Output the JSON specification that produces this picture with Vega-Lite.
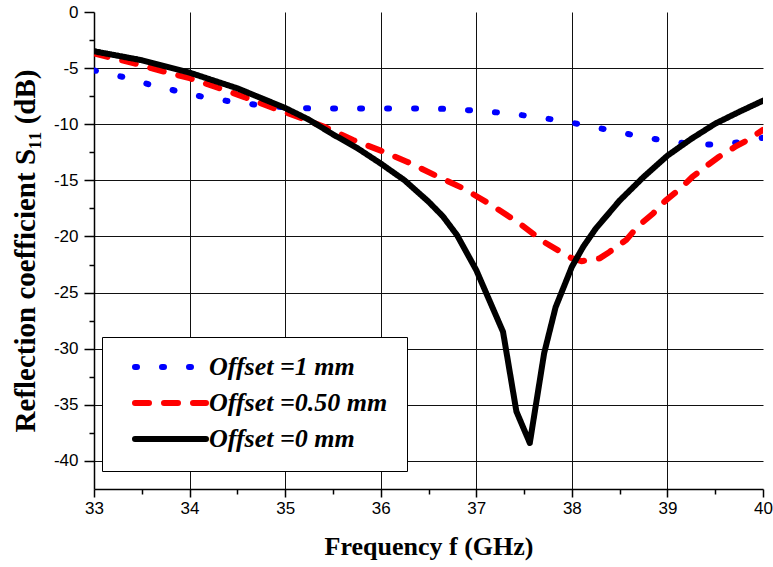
{
  "$schema": "https://vega.github.io/schema/vega-lite/v6.json",
  "width": 669,
  "height": 477,
  "autosize": {"type": "none"},
  "padding": {"left": 94, "top": 12, "right": 10, "bottom": 78},
  "background": "white",
  "config": {
    "view": {"stroke": null},
    "axis": {
      "domainColor": "black",
      "domainWidth": 1.5,
      "tickColor": "black",
      "tickWidth": 1.5,
      "gridColor": "#111",
      "gridWidth": 1,
      "labelFont": "Liberation Sans",
      "labelFontSize": 17,
      "labelColor": "black",
      "titleFont": "Liberation Serif",
      "titleFontWeight": "bold",
      "titleColor": "black"
    }
  },
  "data": {
    "values": [
      {"f": 33.0, "s": -5.2, "series": "Offset =1 mm"},
      {"f": 33.31, "s": -5.8, "series": "Offset =1 mm"},
      {"f": 33.58, "s": -6.45, "series": "Offset =1 mm"},
      {"f": 33.87, "s": -7.05, "series": "Offset =1 mm"},
      {"f": 34.16, "s": -7.6, "series": "Offset =1 mm"},
      {"f": 34.45, "s": -8.0, "series": "Offset =1 mm"},
      {"f": 34.73, "s": -8.3, "series": "Offset =1 mm"},
      {"f": 35.0, "s": -8.5, "series": "Offset =1 mm"},
      {"f": 35.3, "s": -8.6, "series": "Offset =1 mm"},
      {"f": 35.6, "s": -8.6, "series": "Offset =1 mm"},
      {"f": 36.0, "s": -8.6, "series": "Offset =1 mm"},
      {"f": 36.5, "s": -8.6, "series": "Offset =1 mm"},
      {"f": 36.75, "s": -8.65, "series": "Offset =1 mm"},
      {"f": 37.0, "s": -8.8, "series": "Offset =1 mm"},
      {"f": 37.3, "s": -9.0, "series": "Offset =1 mm"},
      {"f": 37.58, "s": -9.3, "series": "Offset =1 mm"},
      {"f": 37.86, "s": -9.65, "series": "Offset =1 mm"},
      {"f": 38.15, "s": -10.1, "series": "Offset =1 mm"},
      {"f": 38.43, "s": -10.6, "series": "Offset =1 mm"},
      {"f": 38.72, "s": -11.1, "series": "Offset =1 mm"},
      {"f": 39.0, "s": -11.5, "series": "Offset =1 mm"},
      {"f": 39.29, "s": -11.8, "series": "Offset =1 mm"},
      {"f": 39.57, "s": -11.8, "series": "Offset =1 mm"},
      {"f": 39.85, "s": -11.5, "series": "Offset =1 mm"},
      {"f": 40.0, "s": -11.2, "series": "Offset =1 mm"},

      {"f": 33.0, "s": -3.7, "series": "Offset =0.50 mm"},
      {"f": 33.43, "s": -4.6, "series": "Offset =0.50 mm"},
      {"f": 33.71, "s": -5.26, "series": "Offset =0.50 mm"},
      {"f": 34.0, "s": -5.9, "series": "Offset =0.50 mm"},
      {"f": 34.28, "s": -6.7, "series": "Offset =0.50 mm"},
      {"f": 34.58, "s": -7.6, "series": "Offset =0.50 mm"},
      {"f": 34.86, "s": -8.5, "series": "Offset =0.50 mm"},
      {"f": 35.15, "s": -9.4, "series": "Offset =0.50 mm"},
      {"f": 35.43, "s": -10.3, "series": "Offset =0.50 mm"},
      {"f": 35.71, "s": -11.4, "series": "Offset =0.50 mm"},
      {"f": 36.0, "s": -12.35, "series": "Offset =0.50 mm"},
      {"f": 36.28, "s": -13.36, "series": "Offset =0.50 mm"},
      {"f": 36.57, "s": -14.55, "series": "Offset =0.50 mm"},
      {"f": 36.86, "s": -15.7, "series": "Offset =0.50 mm"},
      {"f": 37.14, "s": -17.1, "series": "Offset =0.50 mm"},
      {"f": 37.43, "s": -18.7, "series": "Offset =0.50 mm"},
      {"f": 37.71, "s": -20.5, "series": "Offset =0.50 mm"},
      {"f": 37.99, "s": -21.9, "series": "Offset =0.50 mm"},
      {"f": 38.1, "s": -22.2, "series": "Offset =0.50 mm"},
      {"f": 38.29, "s": -21.95, "series": "Offset =0.50 mm"},
      {"f": 38.39, "s": -21.4, "series": "Offset =0.50 mm"},
      {"f": 38.57, "s": -20.3, "series": "Offset =0.50 mm"},
      {"f": 38.69, "s": -19.1, "series": "Offset =0.50 mm"},
      {"f": 38.85, "s": -17.95, "series": "Offset =0.50 mm"},
      {"f": 38.98, "s": -16.8, "series": "Offset =0.50 mm"},
      {"f": 39.14, "s": -15.7, "series": "Offset =0.50 mm"},
      {"f": 39.26, "s": -14.7, "series": "Offset =0.50 mm"},
      {"f": 39.42, "s": -13.65, "series": "Offset =0.50 mm"},
      {"f": 39.54, "s": -12.9, "series": "Offset =0.50 mm"},
      {"f": 39.71, "s": -12.0, "series": "Offset =0.50 mm"},
      {"f": 39.84, "s": -11.4, "series": "Offset =0.50 mm"},
      {"f": 40.0, "s": -10.5, "series": "Offset =0.50 mm"},

      {"f": 33.0, "s": -3.5, "series": "Offset =0 mm"},
      {"f": 33.5, "s": -4.3, "series": "Offset =0 mm"},
      {"f": 34.0, "s": -5.4, "series": "Offset =0 mm"},
      {"f": 34.5, "s": -6.8, "series": "Offset =0 mm"},
      {"f": 35.0, "s": -8.55, "series": "Offset =0 mm"},
      {"f": 35.25, "s": -9.6, "series": "Offset =0 mm"},
      {"f": 35.5, "s": -10.9, "series": "Offset =0 mm"},
      {"f": 35.75, "s": -12.1, "series": "Offset =0 mm"},
      {"f": 36.0, "s": -13.5, "series": "Offset =0 mm"},
      {"f": 36.25, "s": -15.0, "series": "Offset =0 mm"},
      {"f": 36.5, "s": -16.9, "series": "Offset =0 mm"},
      {"f": 36.65, "s": -18.2, "series": "Offset =0 mm"},
      {"f": 36.8, "s": -19.9, "series": "Offset =0 mm"},
      {"f": 37.0, "s": -23.0, "series": "Offset =0 mm"},
      {"f": 37.28, "s": -28.5, "series": "Offset =0 mm"},
      {"f": 37.42, "s": -35.6, "series": "Offset =0 mm"},
      {"f": 37.56, "s": -38.4, "series": "Offset =0 mm"},
      {"f": 37.71, "s": -30.4, "series": "Offset =0 mm"},
      {"f": 37.83, "s": -26.3, "series": "Offset =0 mm"},
      {"f": 37.92, "s": -24.4, "series": "Offset =0 mm"},
      {"f": 38.0, "s": -22.7, "series": "Offset =0 mm"},
      {"f": 38.12, "s": -20.9, "series": "Offset =0 mm"},
      {"f": 38.25, "s": -19.3, "series": "Offset =0 mm"},
      {"f": 38.5, "s": -16.8, "series": "Offset =0 mm"},
      {"f": 38.75, "s": -14.7, "series": "Offset =0 mm"},
      {"f": 39.0, "s": -12.8, "series": "Offset =0 mm"},
      {"f": 39.25, "s": -11.3, "series": "Offset =0 mm"},
      {"f": 39.5, "s": -9.95, "series": "Offset =0 mm"},
      {"f": 39.75, "s": -8.9, "series": "Offset =0 mm"},
      {"f": 40.0, "s": -7.9, "series": "Offset =0 mm"}
    ]
  },
  "mark": {"type": "line", "strokeWidth": 6, "strokeCap": "round", "strokeJoin": "round", "clip": true},
  "encoding": {
    "x": {
      "field": "f",
      "type": "quantitative",
      "scale": {"domain": [33, 40], "nice": false, "zero": false},
      "axis": {
        "title": "Frequency f (GHz)",
        "titleFontSize": 26,
        "values": [33, 33.5, 34, 34.5, 35, 35.5, 36, 36.5, 37, 37.5, 38, 38.5, 39, 39.5, 40],
        "labelExpr": "datum.value % 1 == 0 ? '' + datum.value : ''",
        "labelFlush": false,
        "labelOverlap": false,
        "labelPadding": 3,
        "tickSize": {"condition": {"test": "datum.value % 1 != 0", "value": 5}, "value": 8},
        "grid": true,
        "gridOpacity": {"condition": {"test": "datum.value % 1 != 0 || datum.value == 33 || datum.value == 40", "value": 0}, "value": 1},
        "titlePadding": 17
      }
    },
    "y": {
      "field": "s",
      "type": "quantitative",
      "scale": {"domain": [-42.5, 0], "nice": false, "zero": false},
      "axis": {
        "title": "Reflection coefficient S₁₁ (dB)",
        "titleFontSize": 29,
        "values": [-40, -37.5, -35, -32.5, -30, -27.5, -25, -22.5, -20, -17.5, -15, -12.5, -10, -7.5, -5, -2.5, 0],
        "labelExpr": "datum.value % 5 == 0 ? '' + datum.value : ''",
        "labelOverlap": false,
        "labelPadding": 6,
        "tickSize": {"condition": {"test": "datum.value % 5 != 0", "value": 5}, "value": 10},
        "grid": true,
        "gridOpacity": {"condition": {"test": "datum.value % 5 != 0 || datum.value == 0", "value": 0}, "value": 1},
        "titlePadding": 13
      }
    },
    "color": {
      "field": "series",
      "type": "nominal",
      "scale": {
        "domain": ["Offset =1 mm", "Offset =0.50 mm", "Offset =0 mm"],
        "range": ["#0000ff", "#ff0000", "#000000"]
      },
      "legend": {
        "title": null,
        "orient": "none",
        "legendX": 8,
        "legendY": 325,
        "padding": 19,
        "symbolOffset": 11,
        "strokeColor": "black",
        "fillColor": "white",
        "symbolType": "stroke",
        "symbolSize": 5041,
        "symbolStrokeWidth": 6,
        "clipHeight": 22,
        "rowPadding": 10,
        "labelOffset": 0,
        "labelFont": "Liberation Serif",
        "labelFontWeight": "bold",
        "labelFontStyle": "italic",
        "labelFontSize": 26,
        "labelColor": "black",
        "labelLimit": 400,
        "encode": {"symbols": {"update": {"strokeCap": {"value": "round"}}}}
      }
    },
    "strokeDash": {
      "field": "series",
      "type": "nominal",
      "scale": {
        "domain": ["Offset =1 mm", "Offset =0.50 mm", "Offset =0 mm"],
        "range": [[2, 25], [14, 15], [1, 0]]
      },
      "legend": null
    }
  }
}
